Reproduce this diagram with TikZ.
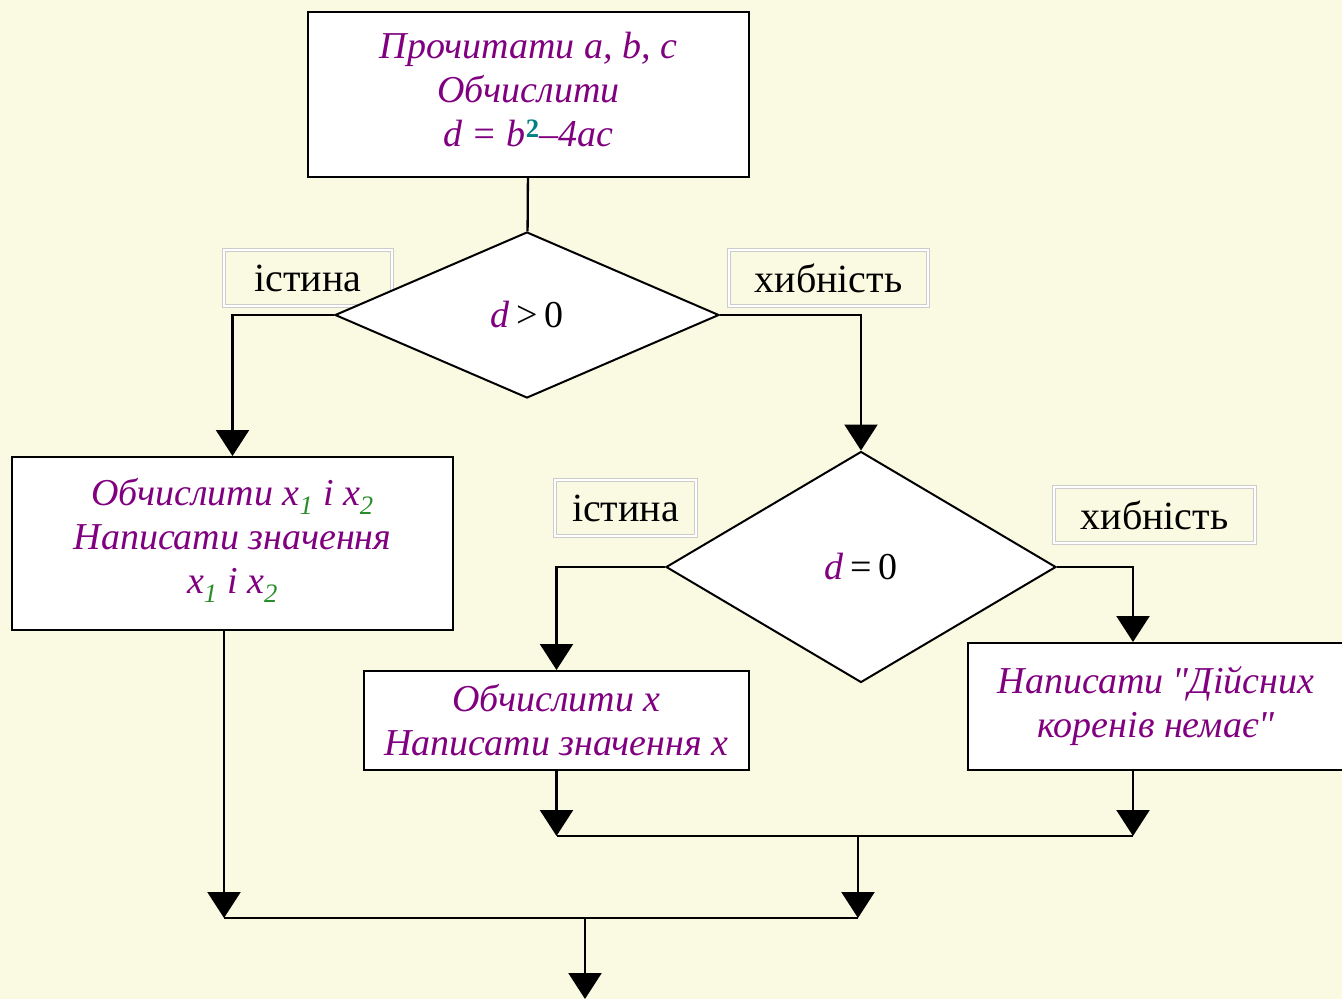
\documentclass[tikz,border=0pt]{standalone}
\usepackage{fontspec}
\setmainfont{Liberation Serif}
\usetikzlibrary{shapes.geometric,arrows.meta,positioning}

\definecolor{paper}{RGB}{250,250,227}
\definecolor{txtpurple}{RGB}{128,0,128}
\definecolor{suptxt}{RGB}{0,128,128}
\definecolor{subtxt}{RGB}{40,140,40}
\newcommand{\dvar}{{\color{txtpurple}\itshape d}}
\newcommand{\sub}[1]{\textsubscript{\color{subtxt}#1}}

\begin{document}
\begin{tikzpicture}[x=1pt,y=-1pt,
  block/.style={draw,line width=2pt,fill=white,align=center,text=txtpurple,
    font=\fontsize{38}{44}\selectfont\itshape,inner sep=0pt},
  test/.style={diamond,draw,line width=2pt,fill=white,inner sep=0pt,
    font=\fontsize{38}{44}\selectfont},
  tag/.style={draw=gray!40,double=white,double distance=1.5pt,line width=1pt,
    fill=paper,inner sep=0pt,font=\fontsize{40}{44}\selectfont},
  line/.style={line width=2.3pt},
  arr/.style={line,-{Triangle[width=33pt,length=26pt]}}]

% Background
\fill[paper] (0,0) rectangle (1342,999);
\useasboundingbox (0,0) rectangle (1342,999);

% Read and compute
\node[block,minimum width=441pt,minimum height=165pt,text depth=10pt] (read) at (528.5,94.5)
  {Прочитати a, b, c\\Обчислити\\d = b\textsuperscript{\color{suptxt}\upshape\bfseries 2}–4ac};

% Labels of the first test
\node[tag,minimum width=168pt,minimum height=56pt] (yes1) at (308,278) {істина};
\node[tag,minimum width=199pt,minimum height=56pt] (no1) at (828.5,278) {хибність};

% First test
\node[test,minimum width=384pt,minimum height=166pt] (testpos) at (527,315) {\dvar\,>\,0};

% Two roots
\node[block,minimum width=441pt,minimum height=173pt,text depth=16pt] (two) at (232.5,543.5)
  {Обчислити x\sub{1} і x\sub{2}\\Написати значення\\x\sub{1} і x\sub{2}};

% Labels of the second test
\node[tag,minimum width=141pt,minimum height=56pt] (yes2) at (625.5,508) {істина};
\node[tag,minimum width=201pt,minimum height=56pt] (no2) at (1154.5,515) {хибність};

% Second test
\node[test,minimum width=390pt,minimum height=231pt] (testzero) at (861,567) {\dvar\,=\,0};

% One root
\node[block,minimum width=385pt,minimum height=99pt] (one) at (556.5,720.5)
  {Обчислити x\\Написати значення x};

% No roots
\node[block,minimum width=376pt,minimum height=127pt] (none) at (1156,706.5)
  {Написати \textquotedbl Дійсних\\коренів немає\textquotedbl};

% Joins
\coordinate (j1) at (858,836);
\coordinate (j2) at (858,918);
\coordinate (j3) at (585,918);
\coordinate (exit) at (585,999);

% Connectors
\draw[line] (read) -- (testpos);
\draw[arr] (testpos.west) -| (two.north);
\draw[arr] (testpos.east) -| (testzero.north);
\draw[arr] (testzero.west) -| (one.north);
\draw[arr] (testzero.east) -| ([xshift=-23pt]none.north);

\draw[arr] (one.south) -- (one.south |- j1);
\draw[arr] ([xshift=-23pt]none.south) -- ([xshift=-23pt]none.south |- j1);
\draw[line] (one.south |- j1) -- ([xshift=-23pt]none.south |- j1);
\draw[arr] (j1) -- (j2);
\draw[arr] ([xshift=-8.5pt]two.south) -- ([xshift=-8.5pt]two.south |- j2);
\draw[line] ([xshift=-8.5pt]two.south |- j2) -- (j2);
\draw[arr] (j3) -- (exit);

\end{tikzpicture}
\end{document}
